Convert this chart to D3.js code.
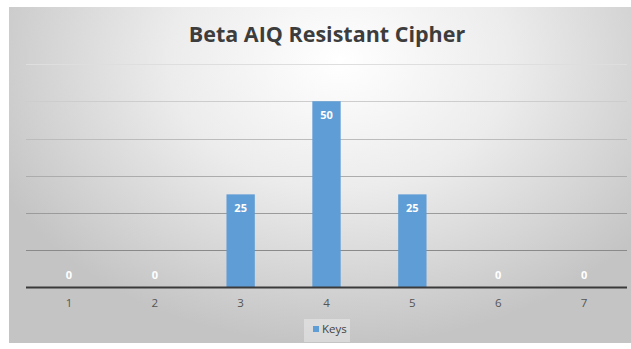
<!DOCTYPE html>
<html><head><meta charset="utf-8">
<script src="https://cdn.jsdelivr.net/npm/d3@7"></script>
<style>html,body{margin:0;padding:0;background:#fff;}svg{display:block;}</style>
</head><body>
<script>
const categories = ["1","2","3","4","5","6","7"];
const keysValues = [0,0,25,50,25,0,0];
const yTicks = [0,10,20,30,40,50,60];
const seriesName = "Keys";
const chartTitle = "Beta AIQ Resistant Cipher";

(function(){
const W = 631, H = 349;
const svg = d3.select("body").append("svg").attr("width", W).attr("height", H);
const defs = svg.append("defs");
const rg = defs.append("radialGradient").attr("id","bg")
  .attr("gradientUnits","userSpaceOnUse")
  .attr("cx",340).attr("cy",60).attr("r",380)
  .attr("gradientTransform","translate(340,60) scale(1,0.75) translate(-340,-60)");
rg.append("stop").attr("offset","0%").attr("stop-color","#ffffff");
rg.append("stop").attr("offset","45%").attr("stop-color","#ececec");
rg.append("stop").attr("offset","100%").attr("stop-color","#c4c4c4");

svg.append("rect").attr("x",9).attr("y",7).attr("width",W-9).attr("height",336).attr("fill","url(#bg)");

const pL = 26, pR = 627, pT = 64, pB = 287.5;
const x = d3.scaleBand().domain(categories).range([pL,pR]).paddingInner(0.67).paddingOuter(0.335);
const y = d3.scaleLinear().domain([0,60]).range([pB,pT]);

const gridColor = d3.scaleLinear().domain([10,60]).range(["#8a8a8a","#dedede"]);
svg.append("g").selectAll("line").data(yTicks.filter(t=>t>0)).join("line")
  .attr("x1",pL).attr("x2",pR)
  .attr("y1",d=>Math.round(y(d))+0.5).attr("y2",d=>Math.round(y(d))+0.5)
  .attr("stroke",d=>gridColor(d)).attr("stroke-width",1.2);

svg.append("g").selectAll("rect").data(keysValues).join("rect")
  .attr("x",(d,i)=>x(categories[i])).attr("width",x.bandwidth())
  .attr("y",d=>y(d)).attr("height",d=>pB-y(d))
  .attr("fill","#5f9dd6");

svg.append("g").selectAll("text").data(keysValues).join("text")
  .attr("x",(d,i)=>x(categories[i])+x.bandwidth()/2)
  .attr("y",d=> d>0 ? y(d)+18 : pB-9)
  .attr("text-anchor","middle")
  .attr("font-family","'Open Sans', sans-serif").attr("font-weight","bold").attr("font-size",11)
  .attr("fill","#ffffff").text(d=>d);

const xAxis = d3.axisBottom(x).tickSize(0).tickPadding(11);
const gx = svg.append("g").attr("transform",`translate(0,${pB})`).call(xAxis);
gx.select(".domain").attr("stroke","#3a3a3a").attr("stroke-width",2.2).attr("d",`M${pL},0H${pR}`);
gx.selectAll("text").attr("font-family","'Open Sans', sans-serif").attr("font-size",11.5).attr("fill","#555");

svg.append("text").attr("x",327).attr("y",42).attr("text-anchor","middle")
  .attr("font-family","'Open Sans', sans-serif").attr("font-weight","bold").attr("font-size",21.5)
  .attr("fill","#3d3d3d").text(chartTitle);

const lg = svg.append("g");
lg.append("rect").attr("x",304).attr("y",319).attr("width",46).attr("height",23).attr("fill","#ffffff").attr("opacity",0.35);
lg.append("rect").attr("x",313).attr("y",326).attr("width",6).attr("height",6).attr("fill","#5f9dd6");
lg.append("text").attr("x",322).attr("y",333).attr("font-family","'Open Sans', sans-serif").attr("font-size",11.5).attr("fill","#444").text(seriesName);
})();
</script>
</body></html>
